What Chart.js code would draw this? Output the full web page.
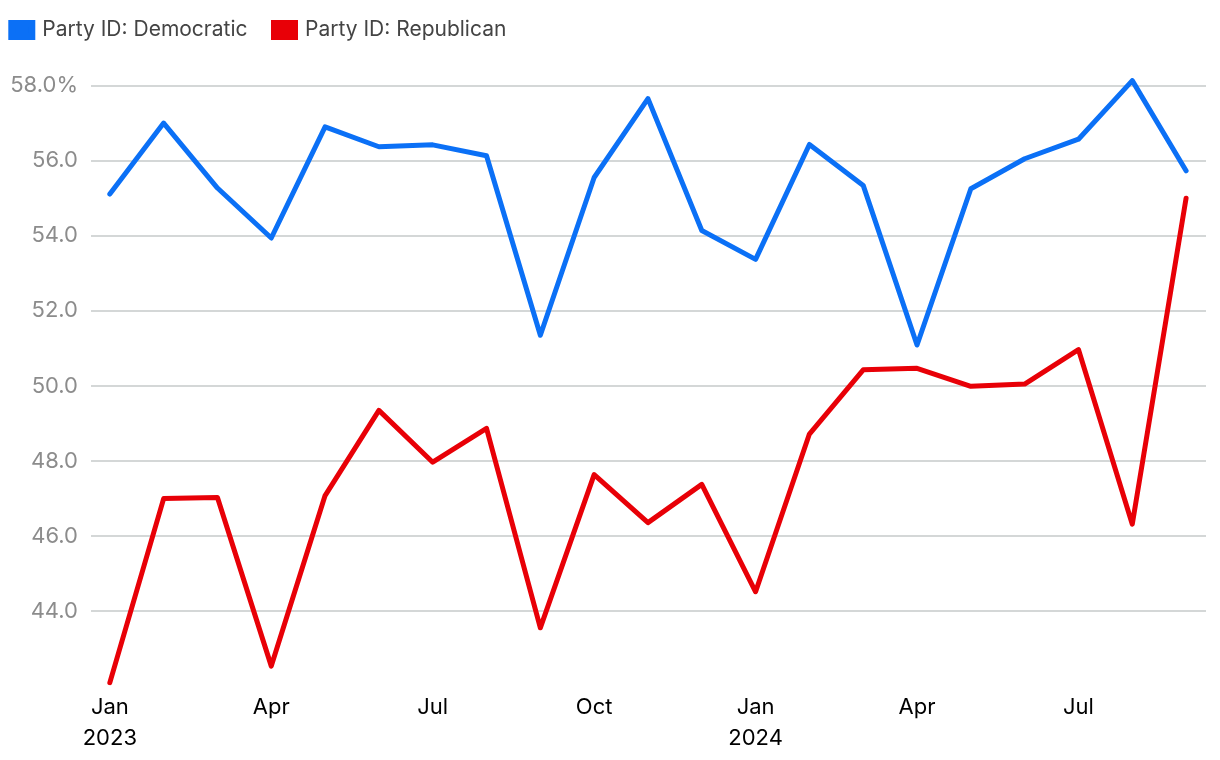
<!DOCTYPE html>
<html>
<head>
<meta charset="utf-8">
<script src="https://cdn.jsdelivr.net/npm/chart.js@4"></script>
<style>
  html, body { margin: 0; padding: 0; background: #fff; }
  #wrap { width: 1220px; height: 760px; }
</style>
</head>
<body>
<div id="wrap"><canvas id="c" width="1220" height="760"></canvas></div>
<script>
const months = ["Jan 2023","Feb 2023","Mar 2023","Apr 2023","May 2023","Jun 2023","Jul 2023","Aug 2023","Sep 2023","Oct 2023","Nov 2023","Dec 2023","Jan 2024","Feb 2024","Mar 2024","Apr 2024","May 2024","Jun 2024","Jul 2024","Aug 2024","Sep 2024"];
const democratic = [55.11, 57.0, 55.27, 53.94, 56.9, 56.37, 56.42, 56.13, 51.35, 55.55, 57.65, 54.14, 53.37, 56.43, 55.34, 51.09, 55.25, 56.05, 56.57, 58.13, 55.73];
const republican = [42.1, 47.0, 47.03, 42.54, 47.08, 49.35, 47.97, 48.87, 43.56, 47.64, 46.36, 47.38, 44.52, 48.72, 50.43, 50.47, 49.99, 50.05, 50.97, 46.32, 55.0];
const xTickLabels = {0: ["Jan", "2023"], 3: "Apr", 6: "Jul", 9: "Oct", 12: ["Jan", "2024"], 15: "Apr", 18: "Jul"};
const yTicks = [44, 46, 48, 50, 52, 54, 56, 58];

const FONT = "Inter, 'Noto Sans', sans-serif";
const toPts = arr => arr.map((v, i) => ({x: i, y: v}));

const legendShift = {
  id: 'legendShift',
  afterLayout(chart) {
    const lg = chart.legend;
    if (!lg) return;
    const dx = -15.2 - lg.left, dy = -7.5 - lg.top;
    lg.left += dx; lg.right += dx; lg.top += dy; lg.bottom += dy;
  }
};

new Chart(document.getElementById('c'), {
  type: 'line',
  data: {
    datasets: [
      { label: 'Party ID: Democratic', data: toPts(democratic), borderColor: '#0b70f6', backgroundColor: '#0b70f6', borderWidth: 5, pointRadius: 0, tension: 0, borderCapStyle: 'round', borderJoinStyle: 'round' },
      { label: 'Party ID: Republican', data: toPts(republican), borderColor: '#e80007', backgroundColor: '#e80007', borderWidth: 5, pointRadius: 0, tension: 0, borderCapStyle: 'round', borderJoinStyle: 'round' }
    ]
  },
  plugins: [legendShift],
  options: {
    responsive: false,
    animation: false,
    layout: { padding: { left: 0, right: 14, top: 20, bottom: 0 } },
    plugins: {
      tooltip: { enabled: false },
      legend: {
        position: 'top',
        align: 'start',
        labels: {
          boxWidth: 20, boxHeight: 13, padding: 27,
          color: '#444', font: { family: FONT, size: 21 },
          generateLabels: chart => chart.data.datasets.map((d, i) => ({
            text: d.label, fillStyle: d.borderColor, strokeStyle: d.borderColor, lineWidth: 7, datasetIndex: i, fontColor: '#444'
          }))
        }
      }
    },
    scales: {
      x: {
        type: 'linear', min: -0.35, max: 20.37,
        afterBuildTicks: s => { s.ticks = Object.keys(xTickLabels).map(k => ({value: +k})); },
        grid: { display: false, drawTicks: false },
        border: { display: false },
        ticks: {
          color: '#000', font: { family: FONT, size: 22, lineHeight: 1.4 }, maxRotation: 0, autoSkip: false, padding: 6,
          callback: v => xTickLabels[v]
        }
      },
      y: {
        min: 42, max: 58.2,
        afterBuildTicks: s => { s.ticks = yTicks.map(v => ({value: v})); },
        afterFit: s => { s.width = 91; },
        grid: { color: '#d4d7d7', lineWidth: 2, drawTicks: false },
        border: { display: false },
        ticks: {
          color: '#8c8c8c', font: { family: FONT, size: 22 }, padding: 13,
          callback: v => v === 58 ? v.toFixed(1) + '%' : v.toFixed(1)
        }
      }
    }
  }
});
</script>
</body>
</html>
